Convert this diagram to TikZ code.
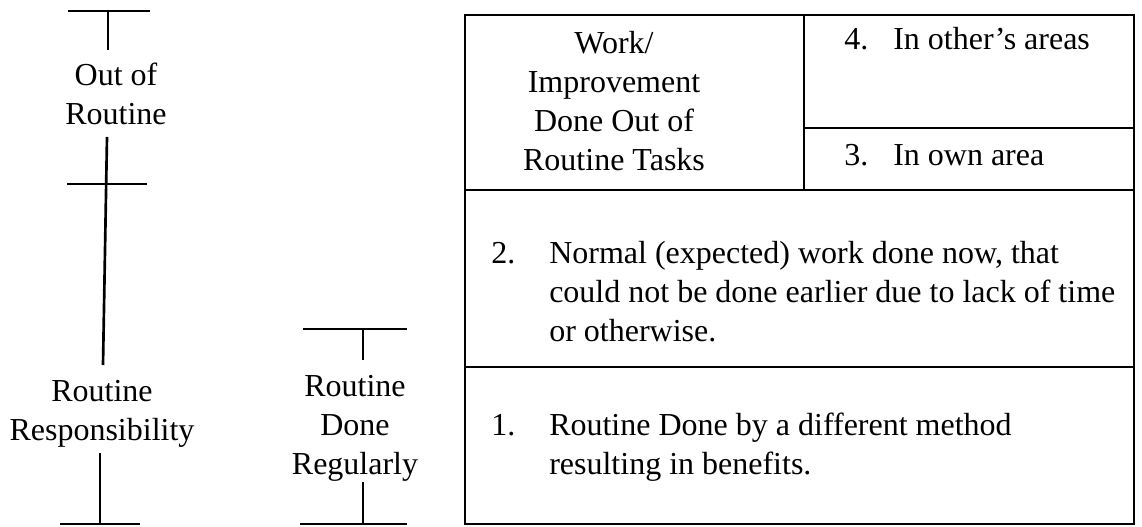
\documentclass[tikz,border=0pt]{standalone}
\usepackage{fontspec}
\setmainfont{Liberation Serif}
\tikzset{
  rule/.style={line width=2pt},
  lbl/.style={inner sep=0.75pt, align=center, font=\fontsize{24}{29.25}\selectfont},
  itm/.style={anchor=base west, inner sep=0.75pt, font=\fontsize{24}{29.25}\selectfont},
  blk/.style={anchor=west, inner sep=0pt, font=\fontsize{24}{29.25}\selectfont}
}
\begin{document}
\begin{tikzpicture}[x=0.75pt,y=0.75pt,yscale=-1,xscale=1]
\useasboundingbox (0,0) rectangle (1142,527);

%Scale: Out of Routine / Routine Responsibility
\coordinate (orBarL) at (68,11);
\coordinate (orBarR) at (150,11);
\coordinate (orTick) at (108,11);
\coordinate (orTickEnd) at (108,50);
\coordinate (rrTop) at (107,137);
\coordinate (rrMidL) at (67,184);
\coordinate (rrMidR) at (147,184);
\coordinate (rrEnd) at (103,365);
\coordinate (rrLow) at (100,453);
\coordinate (rrBot) at (100,524);
\coordinate (rrBotL) at (60,524);
\coordinate (rrBotR) at (140,524);
\draw[rule] (orBarL) -- (orBarR) ;
\draw[rule] (orTick) -- (orTickEnd) ;
\draw[rule] (rrTop) -- (rrEnd) ;
\draw[rule] (rrMidL) -- (rrMidR) ;
\draw[rule] (rrLow) -- (rrBot) ;
\draw[rule] (rrBotL) -- (rrBotR) ;

%Scale: Routine Done Regularly
\coordinate (rdBarL) at (303,329);
\coordinate (rdBarR) at (407,329);
\coordinate (rdTick) at (363,329);
\coordinate (rdTickEnd) at (363,360);
\coordinate (rdLow) at (363,482);
\coordinate (rdBot) at (363,524);
\coordinate (rdBotL) at (300,524);
\coordinate (rdBotR) at (407,524);
\draw[rule] (rdBarL) -- (rdBarR) ;
\draw[rule] (rdTick) -- (rdTickEnd) ;
\draw[rule] (rdLow) -- (rdBot) ;
\draw[rule] (rdBotL) -- (rdBotR) ;

%Shape: Table
\draw[rule] (465,15) rectangle (1134,524) ;
\draw[rule] (804,15) -- (804,190) ;
\draw[rule] (804,128) -- (1134,128) ;
\draw[rule] (465,190) -- (1134,190) ;
\draw[rule] (465,367) -- (1134,367) ;

% Text Node
\node[lbl] (outroutine) at (116,94) {Out of\\Routine};
% Text Node
\node[lbl] (routresp) at (102,414) {Routine\\Responsibility};
% Text Node
\node[lbl] (routdone) at (355,428) {Routine\\Done\\Regularly};
% Text Node
\node[lbl] (worktasks) at (614,101) {Work/\\Improvement\\Done Out of\\Routine Tasks};
% Text Node
\node[itm] (num4) at (843,50) {4.};
\node[itm] (otherarea) at (892,50) {In other's areas};
% Text Node
\node[itm] (num3) at (843,166) {3.};
\node[itm] (ownarea) at (892,166) {In own area};
% Text Node
\node[blk] (normalwork) at (491,295) {\begin{tabular}{@{}p{43.5pt}@{}l@{}}
2. & Normal (expected) work done now, that\\
 & could not be done earlier due to lack of time\\
 & or otherwise.
\end{tabular}};
% Text Node
\node[blk] (diffmethod) at (491,447) {\begin{tabular}{@{}p{43.5pt}@{}l@{}}
1. & Routine Done by a different method\\
 & resulting in benefits.
\end{tabular}};
\end{tikzpicture}
\end{document}
